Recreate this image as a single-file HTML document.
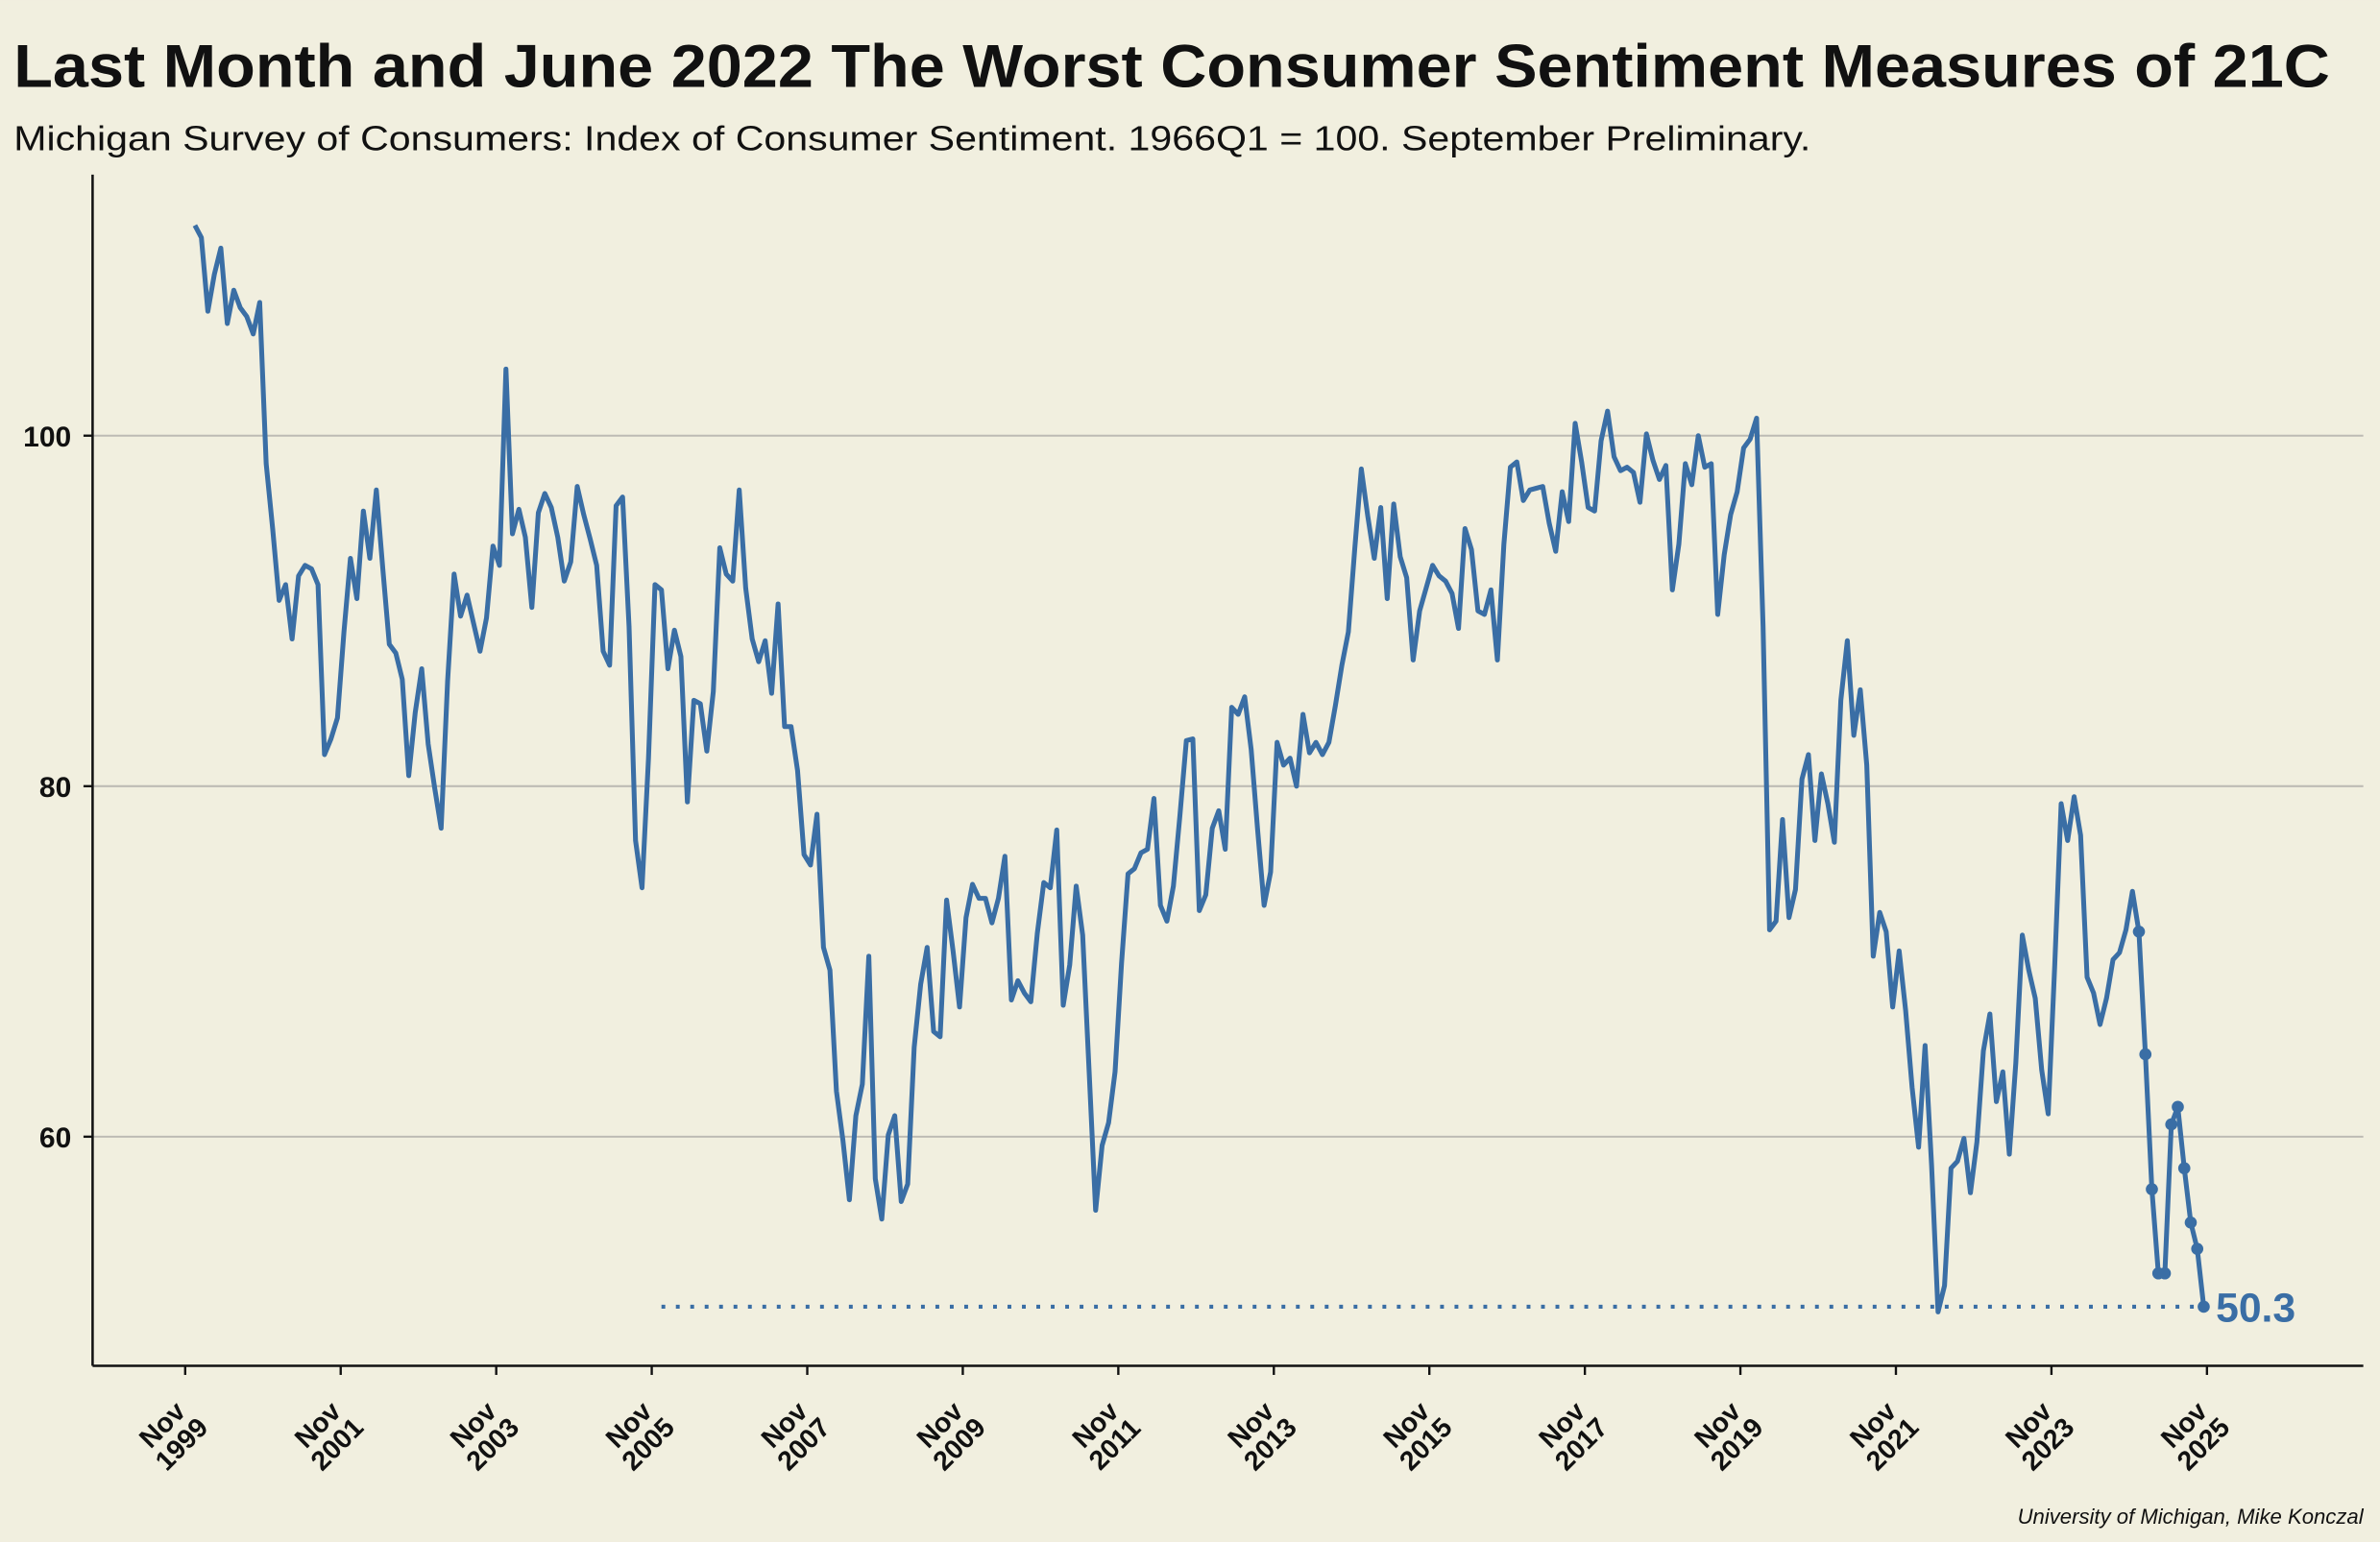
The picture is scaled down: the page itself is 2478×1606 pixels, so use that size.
<!DOCTYPE html>
<html><head><meta charset="utf-8"><style>
html,body{margin:0;padding:0;background:#f1efdf;}
svg{display:block;font-family:"Liberation Sans",sans-serif;}
</style></head><body>
<svg width="2478" height="1606" viewBox="0 0 1568 1016" xmlns="http://www.w3.org/2000/svg">
<rect x="0" y="0" width="1568" height="1016" fill="#f1efdf"/>
<text x="9" y="57" font-size="40" font-weight="bold" fill="#111" textLength="1526" lengthAdjust="spacingAndGlyphs">Last Month and June 2022 The Worst Consumer Sentiment Measures of 21C</text>
<text x="9" y="99" font-size="23" fill="#111" textLength="1184" lengthAdjust="spacingAndGlyphs">Michigan Survey of Consumers: Index of Consumer Sentiment. 1966Q1 = 100. September Preliminary.</text>
<text x="1557" y="1004" font-size="14" font-style="italic" text-anchor="end" fill="#111">University of Michigan, Mike Konczal</text>
<g id="grid"></g>
<g id="yaxis"></g>
<g id="xaxis"></g>
<g id="series"></g>
</svg>
<script>
const yTicks = [60, 80, 100];
const xTickYears = [1999,2001,2003,2005,2007,2009,2011,2013,2015,2017,2019,2021,2023,2025];
const startYear = 2000;
const sentiment = [
112.0,111.3,107.1,109.2,110.7,106.4,108.3,107.3,106.8,105.8,107.6,98.4,
94.7,90.6,91.5,88.4,92.0,92.6,92.4,91.5,81.8,82.7,83.9,88.8,
93.0,90.7,95.7,93.0,96.9,92.4,88.1,87.6,86.1,80.6,84.2,86.7,
82.4,79.9,77.6,86.0,92.1,89.7,90.9,89.3,87.7,89.6,93.7,92.6,
103.8,94.4,95.8,94.2,90.2,95.6,96.7,95.9,94.2,91.7,92.8,97.1,
95.5,94.1,92.6,87.7,86.9,96.0,96.5,89.1,76.9,74.2,81.6,91.5,
91.2,86.7,88.9,87.4,79.1,84.9,84.7,82.0,85.4,93.6,92.1,91.7,
96.9,91.3,88.4,87.1,88.3,85.3,90.4,83.4,83.4,80.9,76.1,75.5,
78.4,70.8,69.5,62.6,59.8,56.4,61.2,63.0,70.3,57.6,55.3,60.1,
61.2,56.3,57.3,65.1,68.7,70.8,66.0,65.7,73.5,70.6,67.4,72.5,
74.4,73.6,73.6,72.2,73.6,76.0,67.8,68.9,68.2,67.7,71.6,74.5,
74.2,77.5,67.5,69.8,74.3,71.5,63.7,55.8,59.5,60.8,63.7,69.9,
75.0,75.3,76.2,76.4,79.3,73.2,72.3,74.3,78.3,82.6,82.7,72.9,
73.8,77.6,78.6,76.4,84.5,84.1,85.1,82.1,77.5,73.2,75.1,82.5,
81.2,81.6,80.0,84.1,81.9,82.5,81.8,82.5,84.6,86.9,88.8,93.6,
98.1,95.4,93.0,95.9,90.7,96.1,93.1,91.9,87.2,90.0,91.3,92.6,
92.0,91.7,91.0,89.0,94.7,93.5,90.0,89.8,91.2,87.2,93.8,98.2,
98.5,96.3,96.9,97.0,97.1,95.0,93.4,96.8,95.1,100.7,98.5,95.9,
95.7,99.7,101.4,98.8,98.0,98.2,97.9,96.2,100.1,98.6,97.5,98.3,
91.2,93.8,98.4,97.2,100.0,98.2,98.4,89.8,93.2,95.5,96.8,99.3,
99.8,101.0,89.1,71.8,72.3,78.1,72.5,74.1,80.4,81.8,76.9,80.7,
79.0,76.8,84.9,88.3,82.9,85.5,81.2,70.3,72.8,71.7,67.4,70.6,
67.2,62.8,59.4,65.2,58.4,50.0,51.5,58.2,58.6,59.9,56.8,59.7,
64.9,67.0,62.0,63.7,59.0,64.2,71.5,69.5,67.9,63.8,61.3,69.7,
79.0,76.9,79.4,77.2,69.1,68.2,66.4,67.9,70.1,70.5,71.8,74.0,
71.7,64.7,57.0,52.2,52.2,60.7,61.7,58.2,55.1,53.6,50.3
];
const markerStartIndex = 300; // Jan 2025
const refLineStartIndex = 72; // Jan 2006

const NS = "http://www.w3.org/2000/svg";
const plotL = 61, plotR = 1557, plotT = 115, plotB = 900;
function yScale(v){ return 287 + (100 - v) * 11.55; }
function xMonths(m){ return 122 + m * (1332/312); } // months since Nov 1999
function xIndex(i){ return xMonths(i + 1.5); }
function mk(tag, attrs, parent){ const e=document.createElementNS(NS,tag); for(const k in attrs) e.setAttribute(k, attrs[k]); parent.appendChild(e); return e; }

const grid = document.getElementById('grid');
const yaxis = document.getElementById('yaxis');
const xaxis = document.getElementById('xaxis');
const series = document.getElementById('series');

yTicks.forEach(v => {
  const y = yScale(v);
  const g = mk('line',{x1:plotL,x2:plotR,y1:y,y2:y,stroke:'#bdbbb4','stroke-width':1.3},grid);
  
  
  const t = mk('line',{x1:plotL-6,x2:plotL,y1:y,y2:y,stroke:'#111','stroke-width':1.5},yaxis);
  
  
  const l = mk('text',{x:plotL-14,y:y+7,'font-size':19,'font-weight':'bold','text-anchor':'end',fill:'#111'},yaxis);
  l.textContent = v;
  
  
});
const ya = mk('line',{x1:plotL,x2:plotL,y1:plotT,y2:plotB,stroke:'#111','stroke-width':1.6},yaxis);


const xa = mk('line',{x1:plotL,x2:plotR,y1:plotB,y2:plotB,stroke:'#111','stroke-width':1.6},xaxis);



xTickYears.forEach(yr => {
  const x = xMonths((yr - 1999) * 12);
  const t = mk('line',{x1:x,x2:x,y1:plotB,y2:plotB+6,stroke:'#111','stroke-width':1.5},xaxis);
  
  
  const g = mk('g',{transform:`translate(${x-8},946) rotate(-45)`},xaxis);
  const tx = mk('text',{'font-size':18,'font-weight':'bold','text-anchor':'middle',fill:'#111'},g);
  
  
  const a = mk('tspan',{x:0,y:-4},tx); a.textContent='Nov';
  const b = mk('tspan',{x:0,y:14},tx); b.textContent=String(yr);
});

const lastIdx = sentiment.length - 1;
const lastVal = sentiment[lastIdx];
const ref = mk('line',{x1:xIndex(refLineStartIndex),x2:xIndex(lastIdx),y1:yScale(lastVal),y2:yScale(lastVal),stroke:'#3a6ea5','stroke-width':2.6,'stroke-dasharray':'2.5 7'},series);



const pts = sentiment.map((v,i)=>xIndex(i).toFixed(2)+','+yScale(v).toFixed(2)).join(' ');
const pl = mk('polyline',{points:pts,fill:'none',stroke:'#3a6ea5','stroke-width':3.2,'stroke-linejoin':'round'},series);



for(let i=markerStartIndex;i<sentiment.length;i++){
  const c = mk('circle',{cx:xIndex(i),cy:yScale(sentiment[i]),r:4,fill:'#3a6ea5'},series);
  
  
}
const lab = mk('text',{x:xIndex(lastIdx)+8,y:yScale(lastVal)+10,'font-size':27,'font-weight':'bold',fill:'#3a6ea5'},series);
lab.textContent = lastVal.toFixed(1);


</script>
</body></html>
